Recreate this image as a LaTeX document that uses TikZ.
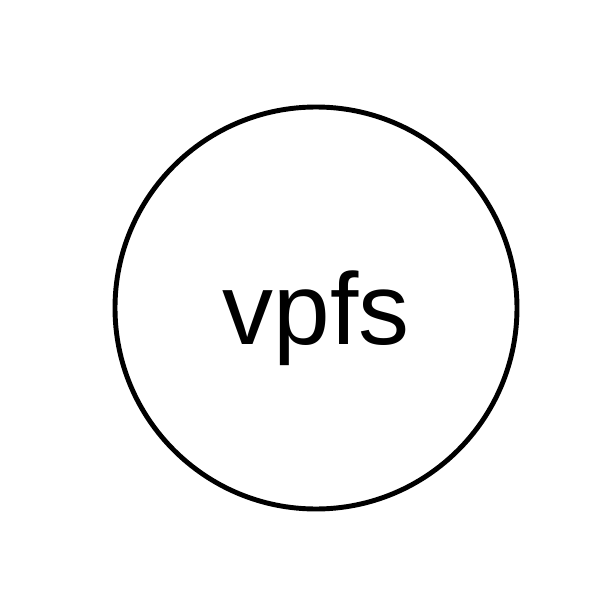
\documentclass[tikz,border=0pt]{standalone}
\usepackage{fontspec}
\setmainfont{Liberation Sans}
\usepackage{tikz}
\usetikzlibrary{positioning}

\begin{document}
\begin{tikzpicture}[>=latex]
    % Khung hình
    \useasboundingbox (0,0) rectangle (6.14,6.14);

    % Nút tròn
    \node[draw, circle, line width=1.4pt, minimum size=4.02cm, inner sep=0pt,
          text depth=0pt, font=\fontsize{29}{34}\selectfont] (vpfs) at (3.16,3.06) {vpfs};

\end{tikzpicture}
\end{document}
